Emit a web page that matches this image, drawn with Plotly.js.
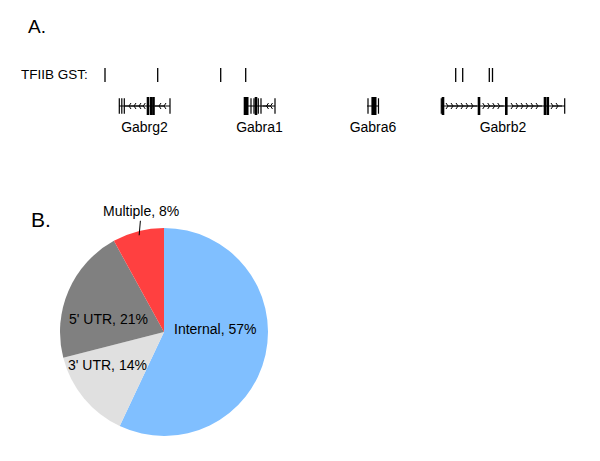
<!DOCTYPE html>
<html>
<head>
<meta charset="utf-8">
<script src="https://cdn.plot.ly/plotly-3.0.1.min.js"></script>
<style>
  html, body { margin: 0; padding: 0; background: #ffffff; }
  #chart { width: 600px; height: 461px; }
</style>
</head>
<body>
<div id="chart"></div>
<script>
// ---------- Part A data (genomic track, positions in track units) ----------
var gstPositions = [105, 157.7, 220.7, 245.7, 455.7, 462.7, 489.3, 492.5];

var geneNames   = ['Gabrg2', 'Gabra1', 'Gabra6', 'Gabrb2'];
var geneStart   = [119, 244, 367, 441];
var geneEnd     = [170, 275, 379, 565];
var geneStrand  = ['-', '-', '-', '+'];
var thinExons   = [
  [119.3, 121.8, 124.3, 170],
  [251, 254, 258.3, 261, 275],
  [368, 378.5],
  [441.3, 564.7]
];
var thickExons  = [
  [148, 151.2, 153.5],
  [245, 247.2, 256],
  [372.7, 375.2],
  [443, 479, 506.3, 545, 547.8]
];
var arrowMarks  = [
  [129, 134, 139, 143.3, 159, 164],
  [266.5, 270.5],
  [],
  [448, 453, 458, 463, 468, 473, 484.7, 489.7, 494.7, 499.7, 513, 518, 523, 528, 533, 538, 553, 558]
];

// ---------- Part B data (pie) ----------
var pieLabels = ['Internal', "3' UTR", "5' UTR", 'Multiple'];
var pieValues = [57, 14, 21, 8];
var pieColors = ['#80BFFF', '#E0E0E0', '#808080', '#FF4040'];

var FONT = 'Liberation Sans, Arial, sans-serif';
var traces = [];

// GST markers
traces.push({
  type: 'scatter', mode: 'markers', xaxis: 'x', yaxis: 'y',
  x: gstPositions, y: gstPositions.map(function(){ return 1; }),
  marker: { symbol: 'line-ns-open', size: 10, color: '#000', line: { width: 1.3, color: '#000' } },
  hoverinfo: 'skip'
});

geneNames.forEach(function(name, i) {
  traces.push({
    type: 'scatter', mode: 'lines', xaxis: 'x', yaxis: 'y',
    x: [geneStart[i], geneEnd[i]], y: [0, 0],
    line: { color: '#000', width: 1 }, hoverinfo: 'skip'
  });
  if (arrowMarks[i].length) {
    traces.push({
      type: 'scatter', mode: 'markers', xaxis: 'x', yaxis: 'y',
      x: arrowMarks[i], y: arrowMarks[i].map(function(){ return 0; }),
      marker: { symbol: geneStrand[i] === '+' ? 'y-right-open' : 'y-left-open', size: 5,
                color: '#000', line: { width: 1, color: '#000' } },
      hoverinfo: 'skip'
    });
  }
  traces.push({
    type: 'scatter', mode: 'markers', xaxis: 'x', yaxis: 'y',
    x: thinExons[i], y: thinExons[i].map(function(){ return 0; }),
    marker: { symbol: 'line-ns-open', size: 11, color: '#000', line: { width: 1.2, color: '#000' } },
    hoverinfo: 'skip'
  });
  traces.push({
    type: 'scatter', mode: 'markers', xaxis: 'x', yaxis: 'y',
    x: thickExons[i], y: thickExons[i].map(function(){ return 0; }),
    marker: { symbol: 'line-ns-open', size: 13, color: '#000', line: { width: 2.6, color: '#000' } },
    hoverinfo: 'skip'
  });
});

// gene labels
traces.push({
  type: 'scatter', mode: 'text', xaxis: 'x', yaxis: 'y',
  x: geneNames.map(function(n, i){ return (geneStart[i] + geneEnd[i]) / 2; }),
  y: geneNames.map(function(){ return -0.71; }),
  text: geneNames, textposition: 'middle center',
  textfont: { family: FONT, size: 14, color: '#000' }, hoverinfo: 'skip'
});

// pie
traces.push({
  type: 'pie', labels: pieLabels, values: pieValues, sort: false,
  direction: 'clockwise', rotation: 0,
  marker: { colors: pieColors, line: { width: 0 } },
  domain: { x: [60/600, 268/600], y: [25/461, 233/461] },
  textinfo: 'none',
  hoverinfo: 'skip'
});

// Multiple label callout, tip computed from slice geometry
var total = pieValues.reduce(function(a, b){ return a + b; }, 0);
var cumBefore = pieValues.slice(0, 3).reduce(function(a, b){ return a + b; }, 0);
var ang = (cumBefore + pieValues[3] / 2) / total * 2 * Math.PI;
var cx = 164, cy = 129, R = 104;
var tipX = cx + 0.96 * R * Math.sin(ang);
var tipY = cy + 0.96 * R * Math.cos(ang);

function sliceText(i) { return pieLabels[i] + ', ' + pieValues[i] + '%'; }
function pieAnn(i, px, py) {
  return { xref: 'paper', yref: 'paper', x: px / 600, y: 1 - py / 461,
    xanchor: 'center', yanchor: 'middle', text: sliceText(i), showarrow: false,
    font: { family: FONT, size: 14, color: '#000' } };
}

var layout = {
  width: 600, height: 461,
  margin: { l: 0, r: 0, t: 0, b: 0 },
  paper_bgcolor: '#fff', plot_bgcolor: '#fff',
  showlegend: false,
  font: { family: FONT, size: 13, color: '#000' },
  xaxis: { domain: [0, 1], range: [0, 600], visible: false, fixedrange: true },
  yaxis: { domain: [1 - 152.5/461, 1 - 44/461], range: [-1.5, 2], visible: false, fixedrange: true },
  annotations: [
    { xref: 'paper', yref: 'paper', x: 26/600, y: 1 - 27/461, xanchor: 'left', yanchor: 'middle',
      text: 'A.', showarrow: false, font: { family: FONT, size: 19, color: '#000' } },
    { xref: 'paper', yref: 'paper', x: 29/600, y: 1 - 219/461, xanchor: 'left', yanchor: 'middle',
      text: 'B.', showarrow: false, font: { family: FONT, size: 21, color: '#000' } },
    { xref: 'x', yref: 'y', x: 19, y: 1, xanchor: 'left', yanchor: 'middle',
      text: 'TFIIB GST:', showarrow: false, font: { family: FONT, size: 13.5, color: '#000' } },
    pieAnn(0, 215, 328.5),
    pieAnn(2, 108.5, 318.5),
    pieAnn(1, 107.5, 365),
    { xref: 'paper', yref: 'paper', x: tipX / 600, y: tipY / 461,
      text: sliceText(3), showarrow: true, arrowhead: 0,
      arrowwidth: 1, arrowcolor: '#000', standoff: 0, ax: 2, ay: -24,
      font: { family: FONT, size: 14, color: '#000' } }
  ]
};

Plotly.newPlot('chart', traces, layout, { staticPlot: true, displayModeBar: false });
</script>
</body>
</html>
